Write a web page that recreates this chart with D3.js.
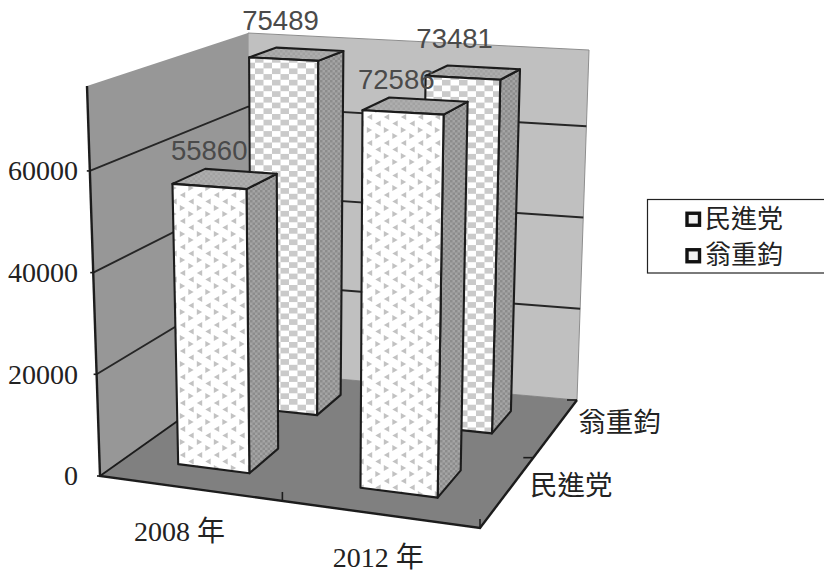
<!DOCTYPE html>
<html lang="zh-Hant">
<head>
<meta charset="utf-8">
<script src="https://cdn.jsdelivr.net/npm/d3@7/dist/d3.min.js"></script>
<style>
html,body{margin:0;padding:0;background:#fff;overflow:hidden}
svg{display:block}
.cjk{font-family:"Liberation Serif","Noto Sans CJK TC",serif;fill:#222}
.val{font-family:"Liberation Sans",Arial,sans-serif;fill:#4a4a4a;font-size:27.5px}
</style>
</head>
<body>
<script>
// ---- data ----
const categories = ["2008 年", "2012 年"];
const seriesNames = ["民進党", "翁重鈞"];
const valuesMinjin = [55860, 72586];
const valuesWeng = [75489, 73481];
const yTickValues = [0, 20000, 40000, 60000];
const yAxisTop = 76700;

// ---- frame of the 3D box, as seen on screen ----
const W = 824, H = 572;
const floorCorners = {fl:[100,476], fr:[480,528], bl:[248,371], br:[577,400]};
const topCorners   = {fl:[87,86],   fr:[489,106], bl:[248,33],  br:[589,50]};
const persp = (t,k) => t*k/(1+(k-1)*t);
const bil = (c,u,w,i) => (1-u)*(1-w)*c.fl[i] + u*(1-w)*c.fr[i] + (1-u)*w*c.bl[i] + u*w*c.br[i];

// ---- scales ----
const xBand = d3.scaleBand().domain(categories).range([0,1]).paddingInner(0.6).paddingOuter(0.3);
const zBand = d3.scaleBand().domain(seriesNames).range([0,1]).paddingInner(0.6).paddingOuter(0.3);
const yUnit = d3.scaleLinear().domain([0,yAxisTop]).range([0,1]);
// screen point of (t along categories, t along depth, value)
function project(tx,tz,val){
  const u = persp(tx,0.923), w = persp(tz,1.22), v = yUnit(val);
  const p0 = [bil(floorCorners,u,w,0), bil(floorCorners,u,w,1)];
  const p1 = [bil(topCorners,u,w,0), bil(topCorners,u,w,1)];
  return [p0[0]+(p1[0]-p0[0])*v, p0[1]+(p1[1]-p0[1])*v];
}
const path = d3.line();
const poly = pts => path(pts)+"Z";

const svg = d3.select("body").append("svg").attr("width",W).attr("height",H).attr("viewBox",`0 0 ${W} ${H}`);
const defs = svg.append("defs");
defs.append("filter").attr("id","soft").attr("x","-5%").attr("y","-5%").attr("width","110%").attr("height","110%")
  .append("feGaussianBlur").attr("stdDeviation",0.55);

// dotted front (triangles)
const pDots = defs.append("pattern").attr("id","pDots").attr("patternUnits","userSpaceOnUse").attr("width",17).attr("height",26);
pDots.append("rect").attr("width",17).attr("height",26).attr("fill","#fff");
[[4,6,1],[12.5,13,-1],[4,19.5,-1],[12.5,0,1],[12.5,26,1]].forEach(([x,y,s])=>{
  pDots.append("path").attr("d",poly([[x-2.7*s,y-2.9],[x+2.7*s,y],[x-2.7*s,y+2.9]])).attr("fill","#c2c2c2");
});
// checker front
const pCheck = defs.append("pattern").attr("id","pCheck").attr("patternUnits","userSpaceOnUse").attr("width",17).attr("height",11.4);
pCheck.append("rect").attr("width",17).attr("height",11.4).attr("fill","#fff");
pCheck.append("rect").attr("width",8.5).attr("height",5.7).attr("fill","#cacaca");
pCheck.append("rect").attr("x",8.5).attr("y",5.7).attr("width",8.5).attr("height",5.7).attr("fill","#cacaca");
// side shading
const mkSide = (id,base,dark,size)=>{
  const p = defs.append("pattern").attr("id",id).attr("patternUnits","userSpaceOnUse").attr("width",size).attr("height",size);
  p.append("rect").attr("width",size).attr("height",size).attr("fill",base);
  p.append("rect").attr("width",size/2).attr("height",size/2).attr("fill",dark);
  p.append("rect").attr("x",size/2).attr("y",size/2).attr("width",size/2).attr("height",size/2).attr("fill",dark);
};
mkSide("pSide","#a4a4a4","#8c8c8c",5);
mkSide("pTop","#aeaeae","#a2a2a2",5);

const chart = svg.append("g").attr("filter","url(#soft)");

// walls and floor
const b = (tx,tz,val)=>project(tx,tz,val);
chart.append("path").attr("d",poly([b(0,1,0),b(1,1,0),b(1,1,yAxisTop),b(0,1,yAxisTop)]))
  .attr("fill","#c0c0c0").attr("stroke","#8e8e8e").attr("stroke-width",1);
chart.append("path").attr("d",poly([b(0,0,0),b(0,1,0),b(0,1,yAxisTop),b(0,0,yAxisTop)]))
  .attr("fill","#979797").attr("stroke","none");
chart.append("path").attr("d",poly([b(0,0,0),b(1,0,0),b(1,1,0),b(0,1,0)]))
  .attr("fill","#808080").attr("stroke","none");

// gridlines on both walls
chart.append("g").selectAll("path").data(yTickValues.filter(d=>d>0)).join("path")
  .attr("d",d=>path([b(0,0,d),b(0,1,d),b(1,1,d)]))
  .attr("fill","none").attr("stroke","#262626").attr("stroke-width",1.9);

// box edges
const edge = (pts,w)=>chart.append("path").attr("d",path(pts)).attr("fill","none").attr("stroke","#1c1c1c").attr("stroke-width",w);
edge([b(0,0,yAxisTop),b(0,0,0),b(1,0,0),b(1,1,0)],2.4);
edge([b(0,0,0),b(0,1,0)],1.9);
// ticks
yTickValues.forEach(d=>{const p=b(0,0,d); edge([[p[0]-3,p[1]],p],1.6);});
[0.5,1].forEach(t=>{const p=b(t,0,0); edge([[p[0],p[1]-9],[p[0],p[1]+1]],1.6);});
[0.5,1].forEach(t=>{const p=b(1,t,0); edge([[p[0]-10,p[1]],p],1.6);});

// bars, back row first
const rows = [
  {name:seriesNames[1], values:valuesWeng, fill:"url(#pCheck)", labelDy:-27},
  {name:seriesNames[0], values:valuesMinjin, fill:"url(#pDots)", labelDy:-18}
];
const labelDx = [4, 7];
const labels = [];
rows.forEach(row=>{
  const z0 = zBand(row.name), z1 = z0+zBand.bandwidth();
  categories.forEach((cat,i)=>{
    const x0 = xBand(cat), x1 = x0+xBand.bandwidth(), v = row.values[i];
    const g = chart.append("g").attr("stroke","#1c1c1c").attr("stroke-width",2.1).attr("stroke-linejoin","round");
    g.append("path").attr("d",poly([b(x1,z0,0),b(x1,z1,0),b(x1,z1,v),b(x1,z0,v)])).attr("fill","url(#pSide)");
    g.append("path").attr("d",poly([b(x0,z0,v),b(x1,z0,v),b(x1,z1,v),b(x0,z1,v)])).attr("fill","url(#pTop)");
    g.append("path").attr("d",poly([b(x0,z0,0),b(x1,z0,0),b(x1,z0,v),b(x0,z0,v)])).attr("fill",row.fill);
    const at = b(x0,z1,v);
    labels.push({v, x:at[0]+labelDx[i], y:at[1]+row.labelDy});
  });
});

// value labels
svg.append("g").selectAll("text").data(labels).join("text").attr("class","val")
  .attr("x",d=>d.x).attr("y",d=>d.y)
  .attr("text-anchor","middle").attr("dominant-baseline","central")
  .text(d=>d.v);

// value axis labels
const yAxisScale = d3.scaleLinear().domain([0,yAxisTop]).range([floorCorners.fl[1],topCorners.fl[1]]);
const yAxis = svg.append("g").attr("transform","translate(78,0)")
  .call(d3.axisLeft(yAxisScale).tickValues(yTickValues).tickSize(0).tickPadding(0).tickFormat(d3.format("d")));
yAxis.select(".domain").remove();
yAxis.selectAll("text").attr("class","cjk").style("font-size","28px").attr("font-family",null).attr("font-size",null);

// category labels
const catDx = [-10, -1];
svg.append("g").selectAll("text").data(categories).join("text").attr("class","cjk")
  .style("font-size","28px")
  .attr("x",(d,i)=>b(xBand(d)+xBand.bandwidth()/2,0,0)[0]+catDx[i])
  .attr("y",d=>b(xBand(d)+xBand.bandwidth()/2,0,0)[1]+43)
  .attr("text-anchor","middle").attr("dominant-baseline","central").text(d=>d);

// series labels along the depth axis
svg.append("g").selectAll("text").data(seriesNames).join("text").attr("class","cjk")
  .style("font-size","27.5px")
  .attr("x",d=>b(1,zBand(d)+zBand.bandwidth()/2,0)[0]+22)
  .attr("y",d=>b(1,zBand(d)+zBand.bandwidth()/2,0)[1]-5)
  .attr("text-anchor","start").attr("dominant-baseline","central").text(d=>d);

// legend (its right side runs off the picture)
const legend = svg.append("g");
legend.append("rect").attr("x",647.5).attr("y",199.5).attr("width",190).attr("height",73.5)
  .attr("fill","#fff").attr("stroke","#222").attr("stroke-width",1.2);
const legendRow = d3.scaleBand().domain(seriesNames).range([201,274]);
seriesNames.forEach(n=>{
  const cy = legendRow(n)+legendRow.bandwidth()/2;
  legend.append("rect").attr("x",687).attr("y",cy-6).attr("width",12.5).attr("height",12)
    .attr("fill","#f0f0f0").attr("stroke","#111").attr("stroke-width",3.4);
  legend.append("text").attr("class","cjk").style("font-size","26px")
    .attr("x",705).attr("y",cy).attr("dominant-baseline","central").text(n);
});
</script>
</body>
</html>
